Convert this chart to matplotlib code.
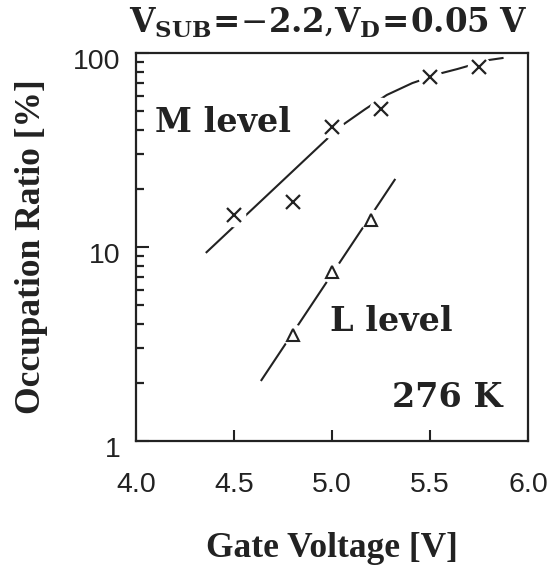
import matplotlib
matplotlib.use('Agg')

import matplotlib.pyplot as plt
from matplotlib.ticker import FixedLocator, NullFormatter
from matplotlib.transforms import ScaledTranslation

plt.rcParams['mathtext.fontset'] = 'dejavuserif'

# M level (crosses) and L level (triangles), occupation ratio in %
m_volts = [4.5, 4.8, 5.0, 5.25, 5.5, 5.75]
m_ratio = [14.6, 17.1, 41.6, 51.4, 75.0, 85.0]
l_volts = [4.8, 5.0, 5.2]
l_ratio = [3.52, 7.43, 13.8]

# hand-drawn guide curves through the points
m_fit_volts = [4.36, 5.04, 5.17, 5.28, 5.41, 5.56, 5.64, 5.80, 5.87]
m_fit_ratio = [9.4, 41.6, 51.4, 60.8, 70.0, 78.8, 82.7, 92.0, 94.2]
l_fit_volts = [4.64, 5.32]
l_fit_ratio = [2.06, 22.2]

x_ticks = [4.0, 4.5, 5.0, 5.5, 6.0]
x_labels = ['4.0', '4.5', '5.0', '5.5', '6.0']
y_ticks = [1, 10, 100]
y_labels = ['1', '10', '100']
y_minor = [m * d for d in (1, 10) for m in range(2, 10)]

SERIF = 'DejaVu Serif'
LABEL_SERIF = 'Liberation Serif'
SANS = 'Liberation Sans'
INK = '#222222'


def main():
    fig = plt.figure(figsize=(5.51, 5.72), dpi=100)
    ax = fig.add_axes([136 / 551, 1 - 441 / 572, 392 / 551, 388 / 572])

    ax.set_yscale('log')
    ax.set_xlim(4.0, 6.0)
    ax.set_ylim(1, 100)

    # guide lines, broken around the markers by white halos
    ax.plot(m_fit_volts, m_fit_ratio, color=INK, lw=1.5, zorder=2)
    ax.plot(l_fit_volts, l_fit_ratio, color=INK, lw=1.5, zorder=2)
    ax.plot(m_volts, m_ratio, 'o', ms=17, mfc='white', mec='none', zorder=2.5)
    ax.plot(l_volts, l_ratio, 'o', ms=16, mfc='white', mec='none', zorder=2.5)

    ax.plot(m_volts, m_ratio, 'x', ms=10, mew=1.6, color=INK, zorder=3)
    ax.plot(l_volts, l_ratio, '^', ms=9, mew=1.5, mfc='white',
            mec=INK, zorder=3)

    for s in ax.spines.values():
        s.set_linewidth(1.6)
        s.set_color(INK)

    ax.set_xticks(x_ticks)
    ax.set_xticklabels(x_labels)
    ax.set_yticks(y_ticks)
    ax.set_yticklabels(y_labels)
    ax.yaxis.set_minor_locator(FixedLocator(y_minor))
    ax.yaxis.set_minor_formatter(NullFormatter())
    ax.tick_params(axis='x', which='both', direction='in', length=8, width=1.5,
                   top=False, pad=22, labelsize=20.5, colors=INK)
    ax.tick_params(axis='y', which='major', direction='in', length=9, width=1.5,
                   right=False, pad=11, labelsize=20.5, colors=INK)
    ax.tick_params(axis='y', which='minor', direction='in', length=5.5, width=1.6,
                   left=True, right=False, color=INK)
    for lab in ax.get_xticklabels() + ax.get_yticklabels():
        lab.set_fontname(SANS)

    # y tick labels sit a little below their ticks in the original
    shift = ScaledTranslation(0, -6 / 100, fig.dpi_scale_trans)
    for lab in ax.get_yticklabels():
        lab.set_transform(lab.get_transform() + shift)

    ax.set_xlabel('Gate Voltage [V]', fontname=LABEL_SERIF, fontweight='bold',
                  fontsize=25.5, color=INK)
    ax.set_ylabel('Occupation Ratio [%]', fontname=LABEL_SERIF, fontweight='bold',
                  fontsize=25.5, color=INK)
    ax.xaxis.set_label_coords(0.5, -0.235)
    ax.yaxis.set_label_coords(-0.224, 0.5)

    ax.text(0.048, 0.796, 'M level', transform=ax.transAxes, fontname=SERIF,
            fontweight='bold', fontsize=24, color=INK, va='baseline')
    ax.text(0.495, 0.284, 'L level', transform=ax.transAxes, fontname=SERIF,
            fontweight='bold', fontsize=24, color=INK, va='baseline')
    ax.text(0.936, 0.088, '276 K', transform=ax.transAxes, fontname=SERIF,
            fontweight='bold', fontsize=24, color=INK, va='baseline',
            ha='right')

    fig.text(0.596, 1 - 33 / 572,
             r'$\mathbf{V_{SUB}}\!\mathbf{=}\!{-}\mathbf{2.2}{,}'
             r'\mathbf{V_D}\!\mathbf{=}\!\mathbf{0.05\ V}$',
             fontsize=23.5, color=INK, ha='center', va='baseline')

    fig.savefig('out.png', dpi=100)


if __name__ == '__main__':
    main()
